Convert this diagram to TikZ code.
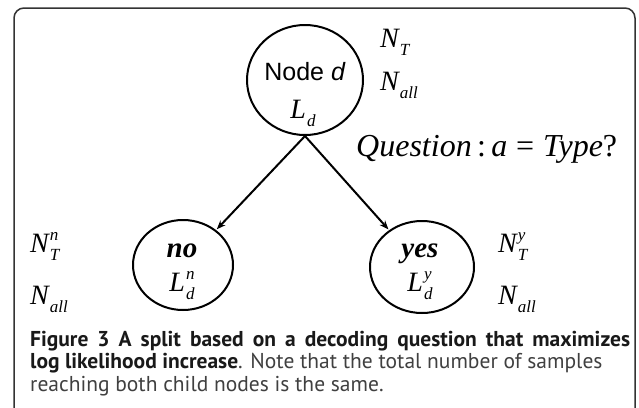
\documentclass[tikz,border=0pt]{standalone}
\usepackage{fontspec}
\setmainfont{Liberation Serif}
\newfontfamily\arialf{Liberation Sans}
\newfontfamily\capfont{PT Sans}
\usetikzlibrary{shapes.geometric,arrows.meta}

% italic symbol with optional superscript (#2) and subscript (#3)
\newcommand\symb[3]{{\itshape #1}\kern1pt\rlap{\raisebox{0.42em}{\fontsize{17}{17}\selectfont\itshape #2}}\raisebox{-0.32em}{\fontsize{17}{17}\selectfont\itshape #3}}

\tikzset{
  bubble/.style={ellipse, draw=black, line width=2pt, inner sep=0pt},
  mathlbl/.style={inner sep=0pt, font=\fontsize{28}{28}\selectfont},
  edgearrow/.style={line width=2pt, -{Stealth[length=9pt,width=7pt]}, shorten >=1pt},
  frameline/.style={draw=black!80, line width=1.5pt, rounded corners=10pt},
}

\begin{document}
\begin{tikzpicture}[x=1pt,y=-1pt]
\useasboundingbox (0,0) rectangle (639,407);
\fill[white] (0,0) rectangle (639,407);

% outer frame, open at the bottom
\draw[frameline] (14,430) -- (14,8) -- (635,8) -- (635,430);

% tree nodes
\node[bubble, minimum width=116pt, minimum height=110pt] (root) at (305,80) {};
\node[bubble, minimum width=100pt, minimum height=90pt] (no) at (183,265) {};
\node[bubble, minimum width=104pt, minimum height=92pt] (yes) at (422,267) {};

% texts inside the nodes
\node[anchor=base, inner sep=0pt, font=\arialf\fontsize{25}{25}\selectfont] (rootname) at (305,80) {Node \textit{d}};
\node[mathlbl, anchor=base] (rootL) at (303,118) {\symb{L}{}{d}};
\node[anchor=base, inner sep=0pt, font=\fontsize{29}{29}\selectfont\bfseries\itshape] (notext) at (182,257) {no};
\node[mathlbl, anchor=base] (noL) at (182,291) {\symb{L}{n}{d}};
\node[anchor=base, inner sep=0pt, font=\fontsize{29}{29}\selectfont\bfseries\itshape] (yestext) at (420,257) {yes};
\node[mathlbl, anchor=base] (yesL) at (420,291) {\symb{L}{y}{d}};

% counts beside the nodes
\node[mathlbl, anchor=base west] (rootNT) at (380,47) {\symb{N}{}{T}};
\node[mathlbl, anchor=base west] (rootNall) at (380,90) {\symb{N}{}{all}};
\node[mathlbl, anchor=base west] (noNT) at (30,252) {\symb{N}{n}{T}};
\node[mathlbl, anchor=base west] (noNall) at (30,304) {\symb{N}{}{all}};
\node[mathlbl, anchor=base west] (yesNT) at (498,252) {\symb{N}{y}{T}};
\node[mathlbl, anchor=base west] (yesNall) at (498,304) {\symb{N}{}{all}};

% the split question
\node[anchor=base west, inner sep=0pt, font=\fontsize{32}{32}\selectfont] (question) at (356,156)
  {\textit{Question}\,:\,\textit{a}\;=\;\textit{Type}?};

% branches
\draw[edgearrow] (root.south) -- (no);
\draw[edgearrow] (root.south) -- (yes);

% caption
\node[anchor=north west, inner sep=0pt, align=left,
      font=\capfont\fontsize{21.5}{22.5}\selectfont, text=black!75] (caption) at (30,331)
  {\makebox[600pt][s]{\textcolor{black!90}{\textbf{Figure 3 A split based on a decoding question that maximizes}}}\\
   \textcolor{black!90}{\textbf{log likelihood increase}}. Note that the total number of samples\\
   reaching both child nodes is the same.};
\end{tikzpicture}
\end{document}
